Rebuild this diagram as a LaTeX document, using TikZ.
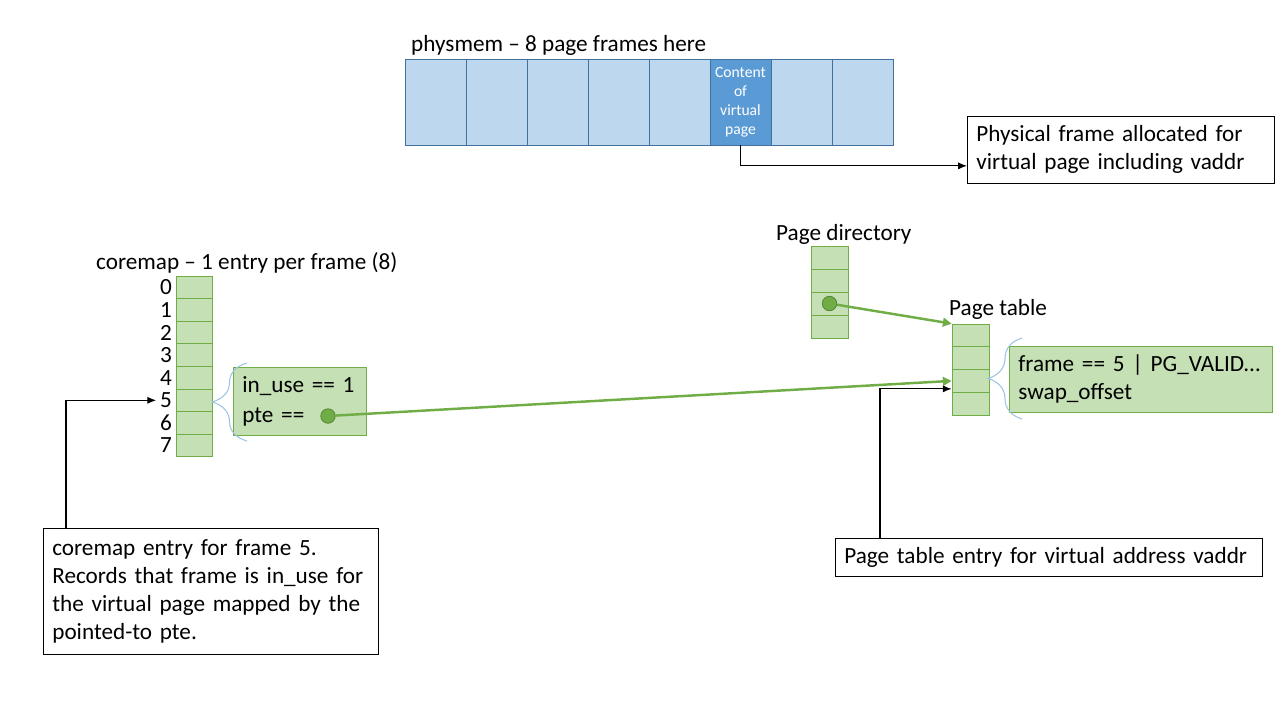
\documentclass[tikz,border=0pt]{standalone}
\usepackage{fontspec}
\setmainfont{Carlito}
\usetikzlibrary{arrows.meta, positioning, calc, decorations.pathreplacing}
\definecolor{frameblue}{HTML}{BDD7EE}
\definecolor{pageblue}{HTML}{5B9BD5}
\definecolor{edgeblue}{HTML}{41719C}
\definecolor{entrygreen}{HTML}{C5E0B4}
\definecolor{edgegreen}{HTML}{70AD47}
\definecolor{dotedge}{HTML}{507E32}
\definecolor{bracecol}{HTML}{9DC3E6}

\begin{document}
\begin{tikzpicture}[
  x=0.02cm, y=-0.02cm,
  every node/.style={font=\fontsize{13.2}{16}\selectfont, align=left},
  frame/.style={rectangle, draw=edgeblue, fill=frameblue, inner sep=0pt,
    minimum width=1.22cm, minimum height=1.72cm},
  cell/.style={rectangle, draw=edgegreen, fill=entrygreen, inner sep=0pt},
  cmcell/.style={cell, minimum width=0.72cm, minimum height=0.452cm},
  tblcell/.style={cell, minimum width=0.74cm, minimum height=0.458cm},
  entrybox/.style={cell, anchor=north west, inner xsep=0.18cm},
  note/.style={rectangle, draw, fill=white, anchor=north west, inner xsep=0.18cm},
  title/.style={anchor=base west},
  dot/.style={circle, draw=dotedge, fill=edgegreen, minimum size=0.29cm, inner sep=0pt},
  ptrarrow/.style={-{Triangle[length=5pt,width=5pt]}, draw=edgegreen, line width=1.4pt},
  callout/.style={-{Latex[length=5pt,width=4pt]}, line width=0.6pt},
  curly/.style={draw=bracecol, line width=0.6pt, decorate}
]
\useasboundingbox (0,0) rectangle (1280,720);

% Tighter spacing
\def\cmstep{22.6}   % coremap row height
\def\pdstep{23}     % page directory row height
\def\ptstep{22.75}  % page table row height

% physmem: 8 frames in a row
\node[title] (pmTitle) at (405,51) {physmem -- 8 page frames here};
\foreach \i in {0,1,2,3,4,6,7}
  \node[frame] (pm\i) at ({435.5+61*\i}, 102) {};
\node[frame, fill=pageblue, text=white, align=center,
  font=\fontsize{8.9}{10.8}\selectfont] (pm5) at (740.5,102)
  {Content\\of\\virtual\\page};

\node[note, text width=5.78cm, minimum height=1.34cm] (physNote) at (967,116)
  {Physical frame allocated for\\virtual page including vaddr};

% coremap column with frame numbers
\node[title] (cmTitle) at (90,269) {coremap -- 1 entry per frame (8)};
\foreach \i in {0,...,7} {
  \node[cmcell] (cm\i) at (194, {276+\cmstep*(\i+0.5)}) {};
  \node[anchor=east, inner sep=0.07cm] (cl\i) at (cm\i.west) {\i};
}

\node[entrybox, text width=2.3cm, minimum height=1.36cm,
  font=\fontsize{13.2}{17.5}\selectfont] (cmEntry) at (233,367)
  {in\_use == 1\\pte ==};
\node[dot] (cmDot) at (328,416) {};

% page directory and page table
\node[title] (pdTitle) at (770,240) {Page directory};
\foreach \i in {0,...,3}
  \node[tblcell] (pd\i) at (829.5, {246+\pdstep*(\i+0.5)}) {};
\node[dot] (pdDot) at (pd2.center) {};

\node[title] (ptTitle) at (943,315) {Page table};
\foreach \i in {0,...,3}
  \node[tblcell, minimum height=0.455cm] (pt\i) at (970.5, {324+\ptstep*(\i+0.5)}) {};

\node[entrybox, text width=4.9cm, minimum height=1.32cm] (ptEntry) at (1009,346)
  {frame == 5 | PG\_VALID…\\swap\_offset};

% braces
\draw[curly, decoration={brace, amplitude=0.7cm}] (247,441) -- (247,363);
\draw[curly, decoration={brace, amplitude=0.68cm}] (1022,419) -- (1022,338);

% notes at the bottom
\node[note, text width=6.34cm, minimum height=2.52cm] (cmNote) at (43,528)
  {coremap entry for frame 5.\\Records that frame is in\_use for\\the virtual page mapped by the\\pointed-to pte.};
\node[note, text width=8.18cm, minimum height=0.76cm] (pteNote) at (835,538)
  {Page table entry for virtual address vaddr};

% pointers
\draw[ptrarrow] (cmDot) -- (pt2.west);
\draw[ptrarrow] (pdDot) -- (pt0.north west);

% callout lines
\draw[callout] (pm5.south) |- ($(physNote.west)+(0,16)$);
\draw[callout] ($(cmNote.north west)+(23,0)$) |- (cl5.west);
\draw[callout] ($(pteNote.north west)+(45,0)$) |- ($(pt2.west)+(0,8)$);

\end{tikzpicture}
\end{document}
